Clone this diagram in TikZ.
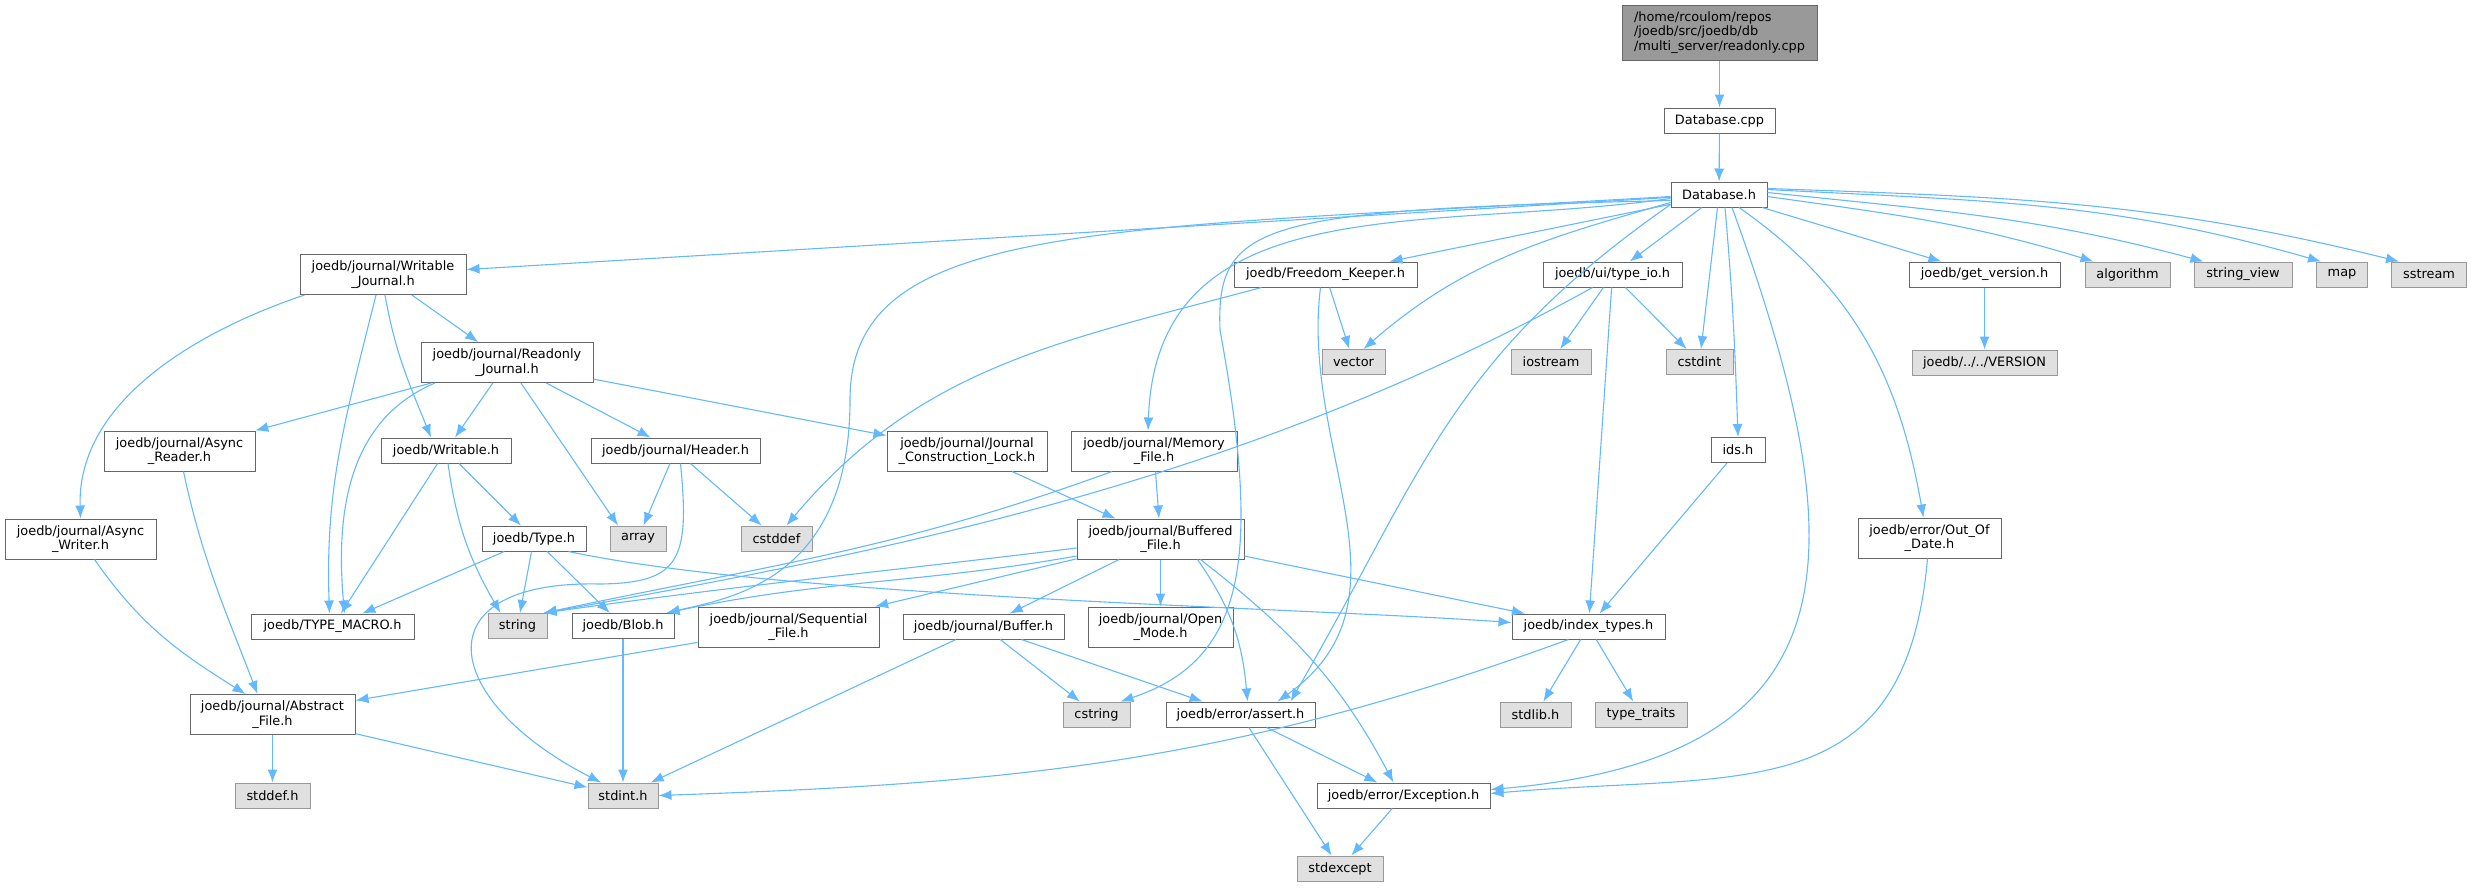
\documentclass[tikz,border=0pt]{standalone}
\usepackage{fontspec}
\setmainfont{DejaVu Sans}
\usetikzlibrary{arrows.meta}

\definecolor{edgeblue}{HTML}{63B8FF}
\definecolor{boxline}{HTML}{666666}
\definecolor{sysline}{HTML}{999999}
\definecolor{sysfill}{HTML}{E0E0E0}

\begin{document}
\begin{tikzpicture}[
  x=1pt, y=1pt,
  box/.style={draw=boxline, fill=white, line width=1pt, rectangle, inner sep=0pt, minimum height=25pt, align=center, font=\fontsize{12.9pt}{14.3pt}\selectfont},
  sysbox/.style={box, draw=sysline, fill=sysfill},
  rootbox/.style={box, fill=sysline, align=left},
  arrow/.style={-{Latex[length=13pt, width=10pt]}, draw=edgeblue, line width=1.1pt}
]

\useasboundingbox (0,0) rectangle (2471,-887);

% Row 1: readonly.cpp -> Database
\node[rootbox, minimum width=195pt, minimum height=55pt] (root) at (1719.5,-32.5) {/home/rcoulom/repos\\/joedb/src/joedb/db\\/multi\_server/readonly.cpp};
\node[box, minimum width=111pt] (dbcpp) at (1719.5,-120.5) {Database.cpp};
\node[box, minimum width=96pt] (dbh) at (1719,-194.5) {Database.h};

% Row 2
\node[box, minimum width=166pt, minimum height=40pt] (wj) at (383,-274.5) {joedb/journal/Writable\\\_Journal.h};
\node[box, minimum width=183pt] (fk) at (1325.5,-274.5) {joedb/Freedom\_Keeper.h};
\node[box, minimum width=139pt] (tio) at (1612.5,-274.5) {joedb/ui/type\_io.h};
\node[box, minimum width=151pt] (gv) at (1984.5,-274.5) {joedb/get\_version.h};
\node[sysbox, minimum width=85pt] (algorithm) at (2127.5,-274.5) {algorithm};
\node[sysbox, minimum width=98pt] (sv) at (2243,-274.5) {string\_view};
\node[sysbox, minimum width=51pt] (map) at (2342,-274.5) {map};
\node[sysbox, minimum width=75pt] (sstream) at (2429,-274.5) {sstream};

% Row 3
\node[box, minimum width=172pt, minimum height=40pt] (roj) at (507,-362.5) {joedb/journal/Readonly\\\_Journal.h};
\node[sysbox, minimum width=63pt] (vector) at (1353.5,-362) {vector};
\node[sysbox, minimum width=80pt] (iostream) at (1551,-362) {iostream};
\node[sysbox, minimum width=67pt] (cstdint) at (1699.5,-362) {cstdint};
\node[sysbox, minimum width=145pt] (version) at (1984.5,-362.5) {joedb/../../VERSION};

% Row 4
\node[box, minimum width=151pt, minimum height=40pt] (ar) at (179.5,-451) {joedb/journal/Async\\\_Reader.h};
\node[box, minimum width=130pt] (wr) at (446,-450.5) {joedb/Writable.h};
\node[box, minimum width=169pt] (hdr) at (675.5,-450.5) {joedb/journal/Header.h};
\node[box, minimum width=160pt, minimum height=40pt] (jcl) at (967,-451) {joedb/journal/Journal\\\_Construction\_Lock.h};
\node[box, minimum width=166pt, minimum height=40pt] (mf) at (1154,-451) {joedb/journal/Memory\\\_File.h};
\node[box, minimum width=54pt] (ids) at (1738,-450) {ids.h};

% Row 5
\node[box, minimum width=151pt, minimum height=40pt] (aw) at (80.5,-539) {joedb/journal/Async\\\_Writer.h};
\node[box, minimum width=104pt] (type) at (534,-538.5) {joedb/Type.h};
\node[sysbox, minimum width=56pt] (array) at (638,-538.5) {array};
\node[sysbox, minimum width=71pt] (cstddef) at (776.5,-538.5) {cstddef};
\node[box, minimum width=167pt, minimum height=40pt] (bf) at (1160.5,-539) {joedb/journal/Buffered\\\_File.h};
\node[box, minimum width=143pt, minimum height=40pt] (ood) at (1929.5,-538) {joedb/error/Out\_Of\\\_Date.h};

% Row 6
\node[box, minimum width=163pt] (macro) at (332.5,-626.5) {joedb/TYPE\_MACRO.h};
\node[sysbox, minimum width=59pt] (string) at (517.5,-626) {string};
\node[box, minimum width=102pt] (blob) at (623,-626) {joedb/Blob.h};
\node[box, minimum width=181pt, minimum height=40pt] (sf) at (788.5,-627) {joedb/journal/Sequential\\\_File.h};
\node[box, minimum width=161pt] (buf) at (983.5,-626.5) {joedb/journal/Buffer.h};
\node[box, minimum width=145pt, minimum height=40pt] (om) at (1160.5,-627) {joedb/journal/Open\\\_Mode.h};
\node[box, minimum width=153pt] (idx) at (1588.5,-626.5) {joedb/index\_types.h};

% Row 7
\node[box, minimum width=165pt, minimum height=40pt] (af) at (272.5,-714.5) {joedb/journal/Abstract\\\_File.h};
\node[sysbox, minimum width=67pt] (cstring) at (1096.5,-714.5) {cstring};
\node[box, minimum width=149pt] (assert) at (1240.5,-714.5) {joedb/error/assert.h};
\node[sysbox, minimum width=71pt] (stdlib) at (1535.5,-714.5) {stdlib.h};
\node[sysbox, minimum width=92pt] (traits) at (1641,-714.5) {type\_traits};

% Row 8
\node[sysbox, minimum width=75pt] (stddef) at (272.5,-795.5) {stddef.h};
\node[sysbox, minimum width=70pt] (stdint) at (623,-795.5) {stdint.h};
\node[box, minimum width=173pt] (exc) at (1403.5,-795.5) {joedb/error/Exception.h};
\node[sysbox, minimum width=86pt] (stdexcept) at (1340,-868.5) {stdexcept};

% readonly.cpp and Database
\draw[arrow] (root) -- (dbcpp);
\draw[arrow] (dbcpp) -- (dbh);

% Database.h
\draw[arrow] (dbh) -- (wj);
\draw[arrow] (dbh) -- (fk);
\draw[arrow] (dbh) -- (tio);
\draw[arrow] (dbh) -- (cstdint);
\draw[arrow] (dbh) -- (gv);
\draw[arrow] ([xshift=6pt]dbh.south) .. controls +(-85:90) and +(92:90) .. (ids.north);
\draw[arrow] ([yshift=-2pt]dbh.east) .. controls +(-8:131) and +(163:131) .. ([xshift=9pt]algorithm.north west);
\draw[arrow] ([yshift=2pt]dbh.east) .. controls +(-6:173) and +(165:173) .. ([xshift=10pt]sv.north west);
\draw[arrow] ([yshift=5pt]dbh.east) .. controls +(-3:219) and +(164:219) .. ([xshift=5pt]map.north west);
\draw[arrow] ([yshift=6pt]dbh.east) .. controls +(-2:249) and +(166:249) .. ([xshift=8pt]sstream.north west);
\draw[arrow] ([yshift=-8pt]dbh.west) .. controls +(196:133) and +(41:133) .. ([xshift=10pt]vector.north);
\draw[arrow] ([yshift=-4pt]dbh.west) .. controls +(188:246) and +(88:246) .. ([xshift=-6pt]mf.north);
\draw[arrow] ([yshift=-2pt]dbh.west) .. controls (1100,-230) and (850,-220) .. (850,-400) .. controls (850,-580) and (730,-598) .. ([xshift=-8pt]blob.north east);
\draw[arrow] ([yshift=-6pt]dbh.west) .. controls (1260,-210) and (1216,-222) .. (1220,-330) .. controls (1262,-560) and (1245,-660) .. ([xshift=-10pt]cstring.north east);
\draw[arrow] ([yshift=-10pt]dbh.west) .. controls +(215:270) and +(60:270) .. ([xshift=50pt]assert.north);
\draw[arrow] ([xshift=20pt]dbh.south) .. controls +(-35:142) and +(100:142) .. ([xshift=-6pt]ood.north);
\draw[arrow] ([xshift=13pt]dbh.south) .. controls +(-70:370) and +(5:370) .. ([yshift=6pt]exc.east);

% Writable_Journal and Readonly_Journal
\draw[arrow] ([xshift=5pt]wj.south west) .. controls (200,-330) and (77,-400) .. (aw.north);
\draw[arrow] ([xshift=-7pt]wj.south) .. controls +(-104:127) and +(92:127) .. ([xshift=-3pt]macro.north);
\draw[arrow] ([xshift=2pt]wj.south) .. controls +(-80:59) and +(112:59) .. ([xshift=-15pt]wr.north);
\draw[arrow] (wj) -- (roj);
\draw[arrow] (roj) -- (ar);
\draw[arrow] ([xshift=-72pt]roj.south) .. controls +(203:97) and +(95:97) .. ([xshift=12pt]macro.north);
\draw[arrow] (roj) -- (wr);
\draw[arrow] (roj) -- ([xshift=-20pt]array.north);
\draw[arrow] (roj) -- (hdr);
\draw[arrow] (roj) -- (jcl);

% Async reader and writer
\draw[arrow] ([xshift=4pt]ar.south) .. controls +(-78:90) and +(111:90) .. ([xshift=-15pt]af.north);
\draw[arrow] ([xshift=14pt]aw.south) .. controls +(-55:80) and +(148:80) .. ([xshift=-27pt]af.north);

% Writable.h and Type.h
\draw[arrow] ([xshift=2pt]wr.south) .. controls +(-82:62) and +(120:62) .. ([xshift=-17pt]string.north);
\draw[arrow] (wr) -- (macro);
\draw[arrow] (wr) -- (type);
\draw[arrow] (type) -- (macro);
\draw[arrow] (type) -- (string);
\draw[arrow] (type) -- (blob);
\draw[arrow] ([xshift=-18pt]type.south east) .. controls +(-12:222) and +(176:222) .. ([yshift=4pt]idx.west);

% Header.h
\draw[arrow] (hdr) -- (array);
\draw[arrow] (hdr) -- (cstddef);
\draw[arrow] ([xshift=5pt]hdr.south) .. controls (690,-560) and (680,-583) .. (600,-584) .. controls (420,-580) and (440,-700) .. ([xshift=-22pt]stdint.north);

% Freedom_Keeper.h
\draw[arrow] ([xshift=-64pt]fk.south) .. controls +(195:208) and +(50:208) .. ([xshift=10pt]cstddef.north);
\draw[arrow] (fk) -- (vector);
\draw[arrow] ([xshift=-5pt]fk.south) .. controls (1300,-450) and (1420,-600) .. ([xshift=37pt]assert.north);

% type_io.h, ids.h, get_version.h
\draw[arrow] ([xshift=-20pt]tio.south) .. controls +(209:387) and +(10:381) .. ([xshift=-4pt]string.north east);
\draw[arrow] (tio) -- (iostream);
\draw[arrow] (tio) -- (cstdint);
\draw[arrow] (tio) -- (idx);
\draw[arrow] (ids) -- (idx);
\draw[arrow] (gv) -- (version);

% Memory_File.h and Buffered_File.h
\draw[arrow] (jcl) -- (bf);
\draw[arrow] (mf) -- (bf);
\draw[arrow] ([xshift=-42pt]mf.south) .. controls +(200:230) and +(12:230) .. ([xshift=-4pt]string.north east);
\draw[arrow] ([yshift=-9pt]bf.west) .. controls +(187:211) and +(8:211) .. ([xshift=-4pt]string.north east);
\draw[arrow] ([yshift=-17pt]bf.west) .. controls +(190:162) and +(12:162) .. ([xshift=-8pt]blob.north east);
\draw[arrow] (bf) -- (sf);
\draw[arrow] (bf) -- (buf);
\draw[arrow] (bf) -- (om);
\draw[arrow] (bf) -- (idx);
\draw[arrow] ([xshift=37pt]bf.south) .. controls +(-55:59) and +(95:59) .. ([xshift=7pt]assert.north);
\draw[arrow] ([xshift=40pt]bf.south) .. controls +(-38:116) and +(118:116) .. ([xshift=-10pt]exc.north);

% lower files
\draw[arrow] (sf) -- (af);
\draw[arrow] (buf) -- (stdint);
\draw[arrow] (buf) -- (cstring);
\draw[arrow] (buf) -- (assert);
\draw[arrow] ([xshift=-20pt]idx.south) .. controls +(200:362) and +(2:362) .. (stdint.east);
\draw[arrow] (idx) -- (stdlib);
\draw[arrow] (idx) -- (traits);
\draw[arrow] ([xshift=-2pt]ood.south) .. controls +(-95:253) and +(5:253) .. ([yshift=2pt]exc.east);
\draw[arrow] (assert) -- (exc);
\draw[arrow] (assert) -- (stdexcept);
\draw[arrow] (exc) -- (stdexcept);
\draw[arrow] (af) -- (stddef);
\draw[arrow] (af) -- (stdint);
\draw[arrow] (blob) -- (stdint);

\end{tikzpicture}
\end{document}
